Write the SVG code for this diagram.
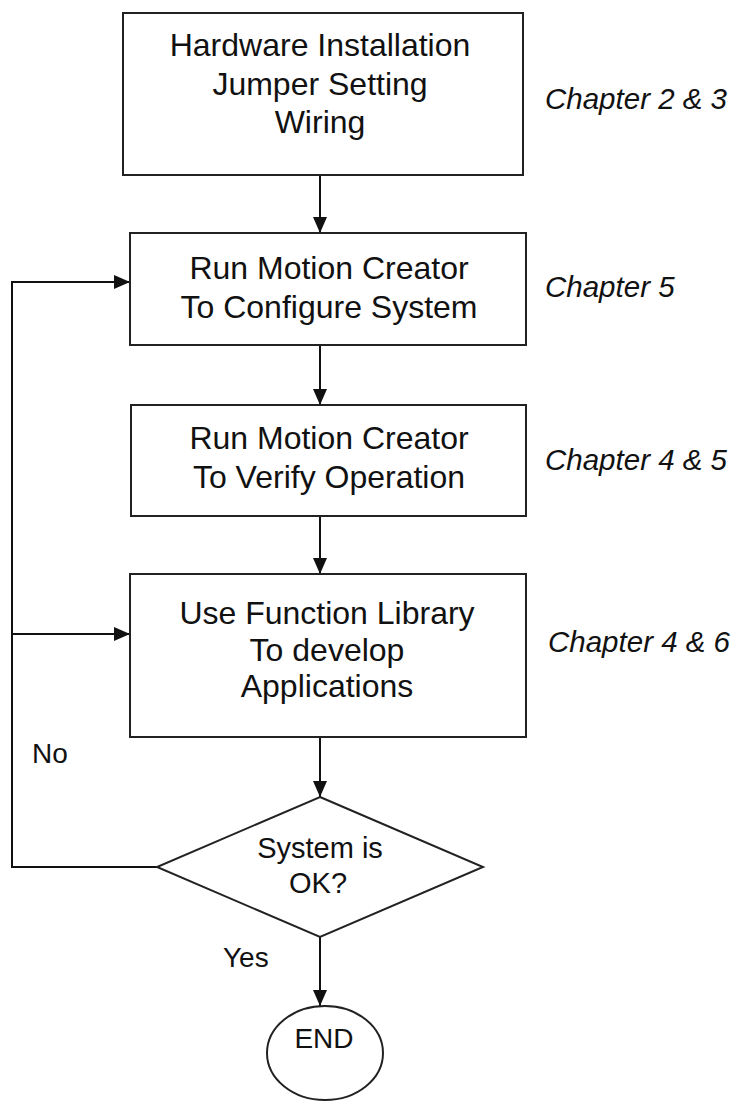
<svg xmlns="http://www.w3.org/2000/svg" width="735" height="1104" viewBox="0 0 735 1104">
<style>
.box{fill:#fff;stroke:#222;stroke-width:2}
.t{font-family:"Liberation Sans",Arial,sans-serif;font-size:32px;fill:#111;text-anchor:middle}
.s{font-family:"Liberation Sans",Arial,sans-serif;font-size:28px;fill:#111}
.ch{font-family:"Liberation Sans",Arial,sans-serif;font-size:29.5px;font-style:italic;fill:#111}
.c{fill:none;stroke:#111;stroke-width:2}
</style>
<defs>
<marker id="ah" markerWidth="16" markerHeight="14" refX="16" refY="7" orient="auto" markerUnits="userSpaceOnUse">
<path d="M0,0 L16,7 L0,14 Z" fill="#111"/>
</marker>
</defs>
<rect width="735" height="1104" fill="#fff"/>
<g id="connectors">
<line class="c" x1="320" y1="175" x2="320" y2="233" marker-end="url(#ah)"/>
<line class="c" x1="320" y1="345" x2="320" y2="405" marker-end="url(#ah)"/>
<line class="c" x1="320" y1="516" x2="320" y2="574" marker-end="url(#ah)"/>
<line class="c" x1="320" y1="737" x2="320" y2="797" marker-end="url(#ah)"/>
<line class="c" x1="320" y1="937" x2="320" y2="1006" marker-end="url(#ah)"/>
<polyline class="c" points="157,867 12,867 12,282 130,282" marker-end="url(#ah)"/>
<line class="c" x1="12" y1="634" x2="130" y2="634" marker-end="url(#ah)"/>
<text class="s" x="32" y="763">No</text>
<text class="s" x="223" y="967">Yes</text>
</g>
<g id="n1">
<rect class="box" x="123" y="13" width="400" height="162"/>
<text class="t" x="320" y="56">Hardware Installation</text>
<text class="t" x="320" y="95">Jumper Setting</text>
<text class="t" x="320" y="133">Wiring</text>
<text class="ch" x="545" y="109">Chapter 2 &amp; 3</text>
</g>
<g id="n2">
<rect class="box" x="130" y="233" width="396" height="112"/>
<text class="t" x="329" y="279">Run Motion Creator</text>
<text class="t" x="329" y="318">To Configure System</text>
<text class="ch" x="545" y="297">Chapter 5</text>
</g>
<g id="n3">
<rect class="box" x="131" y="405" width="395" height="111"/>
<text class="t" x="329" y="449">Run Motion Creator</text>
<text class="t" x="329" y="488">To Verify Operation</text>
<text class="ch" x="545" y="470">Chapter 4 &amp; 5</text>
</g>
<g id="n4">
<rect class="box" x="130" y="574" width="396" height="163"/>
<text class="t" x="327" y="624">Use Function Library</text>
<text class="t" x="327" y="661">To develop</text>
<text class="t" x="327" y="697">Applications</text>
<text class="ch" x="548" y="652">Chapter 4 &amp; 6</text>
</g>
<g id="n5">
<polygon class="box" points="320,797 483,867 320,937 157,867"/>
<text class="t" x="320" y="858" style="font-size:29px">System is</text>
<text class="t" x="318" y="893" style="font-size:29px">OK?</text>
</g>
<g id="n6">
<ellipse class="box" cx="325" cy="1053" rx="58" ry="47"/>
<text class="t" x="324" y="1048" style="font-size:28px">END</text>
</g>
</svg>
